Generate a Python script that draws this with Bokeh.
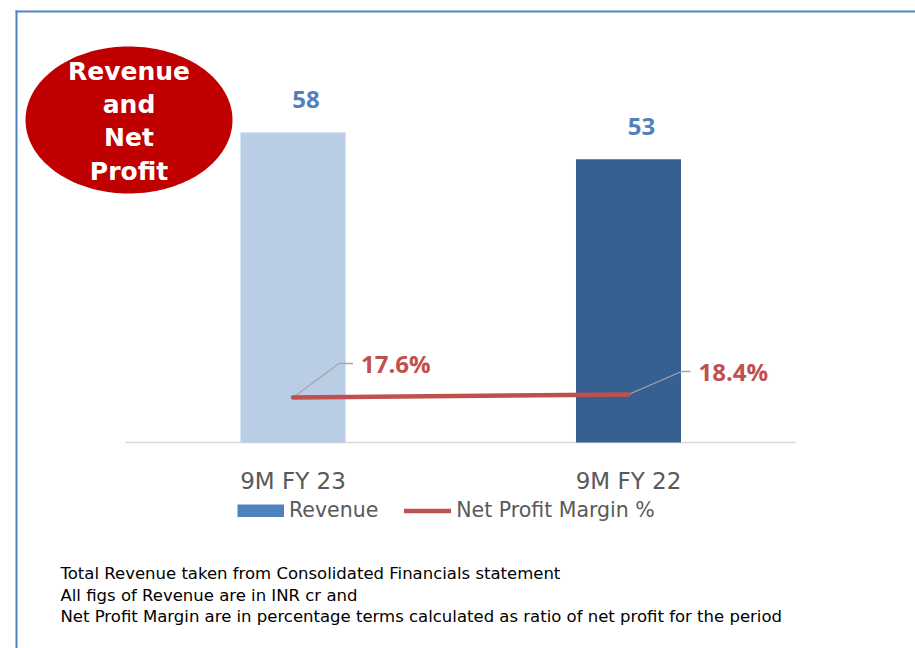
import numpy as np
from bokeh.plotting import figure
from bokeh.models import (ColumnDataSource, Range1d, Legend, LegendItem,
                          Label, PolyAnnotation, BoxAnnotation)
from bokeh.core.properties import value
from bokeh.embed import file_html
from bokeh.resources import INLINE

# ---------------- data ----------------
categories = ["9M FY 23", "9M FY 22"]
revenue = [58, 53]
net_profit_margin = [17.6, 18.4]
revenue_labels = ["58", "53"]
margin_labels = ["17.6%", "18.4%"]
title_lines = ["Revenue", "and", "Net", "Profit"]
notes = [
    "Total Revenue  taken from Consolidated Financials statement",
    "All figs of Revenue are in INR cr and",
    "Net Profit Margin are in percentage terms calculated as ratio of net profit for the period",
]

# ---------------- styles / layout ----------------
bar_colors = ["#b9cde5", "#366092"]
legend_bar_color = "#4f81bd"
line_color = "#c0504d"
W, H = 915, 648
PLOT_L = 124.75         # px where category axis starts
CAT_PX = 335.5          # px per category
BASE_Y = 442            # px (from top) of the zero line
REV_PX = 5.345          # px per revenue unit
M_ZERO = 5.6            # margin value at baseline
M_PX = 3.75             # px per margin unit
leader_dx1 = [46, 53]
leader_dx2 = [60, 62]
leader_dy = [34, 23]
label_dx = [68, 70]

n = len(categories)
x_pos = [i + 0.5 for i in range(n)]

x_range = Range1d(-PLOT_L / CAT_PX, (W - PLOT_L) / CAT_PX)
y_range = Range1d(-(H - BASE_Y) / REV_PX, BASE_Y / REV_PX)
m_range = Range1d(M_ZERO - (H - BASE_Y) / M_PX, M_ZERO + BASE_Y / M_PX)

src = ColumnDataSource(dict(
    x=x_pos, revenue=revenue, margin=net_profit_margin, cat=categories,
    rev_label=revenue_labels, m_label=margin_labels, color=bar_colors,
    lx=label_dx, ly=[-d for d in leader_dy], zero=[0] * n,
))

p = figure(width=W, height=H, output_backend="svg", toolbar_location=None,
           x_range=x_range, y_range=y_range, min_border=0)
p.extra_y_ranges = {"margin": m_range}
p.outline_line_color = None
p.grid.visible = False
p.axis.visible = False
p.background_fill_color = "white"
p.border_fill_color = "white"

# page frame border lines (top and left), screen units from bottom-left
p.add_layout(BoxAnnotation(left=15, right=W, top=H - 10, bottom=H - 12,
                           left_units="screen", right_units="screen",
                           top_units="screen", bottom_units="screen",
                           fill_color="#4f81bd", fill_alpha=1, line_alpha=0))
p.add_layout(BoxAnnotation(left=15, right=17, top=H - 10, bottom=0,
                           left_units="screen", right_units="screen",
                           top_units="screen", bottom_units="screen",
                           fill_color="#4f81bd", fill_alpha=1, line_alpha=0))

# category axis baseline and labels
p.segment(x0=0, y0=0, x1=n, y1=0, line_color="#d9d9d9", line_width=1.5)
p.text(x="x", y="zero", text="cat", y_offset=38, text_align="center", text_baseline="middle",
       text_font=value("DejaVu Sans"), text_font_size="23px", text_color="#595959", source=src)

# bars
p.vbar(x="x", top="revenue", width=0.313, fill_color="color", line_color=None, source=src)
p.text(x="x", y="revenue", text="rev_label", x_offset=13, y_offset=-33,
       text_align="center", text_baseline="middle",
       text_font=value("Open Sans"), text_font_style="bold", text_font_size="24px",
       text_color="#4f81bd", source=src)

# leader lines
lxs = [[x, x + a / CAT_PX, x + b / CAT_PX] for x, a, b in zip(x_pos, leader_dx1, leader_dx2)]
lys = [[m, m + d / M_PX, m + d / M_PX] for m, d in zip(net_profit_margin, leader_dy)]
p.multi_line(xs=lxs, ys=lys, y_range_name="margin", line_color="#a6a6a6", line_width=1.3)

# net profit margin line
r_line = p.line(x="x", y="margin", y_range_name="margin", line_color=line_color,
                line_width=4.5, line_cap="round", source=src)
p.text(x="x", y="margin", text="m_label", x_offset="lx", y_offset="ly",
       y_range_name="margin", text_align="left", text_baseline="middle",
       text_font=value("Open Sans"), text_font_style="bold", text_font_size="24px",
       text_color=line_color, source=src)

# legend (swatch-only renderer for Revenue, no visible data)
r_leg_bar = p.line(x=[float("nan"), float("nan")], y=[float("nan"), float("nan")],
                   line_color=legend_bar_color, line_width=13, line_cap="butt")
legend = Legend(items=[LegendItem(label="Revenue", renderers=[r_leg_bar]),
                       LegendItem(label="Net Profit Margin %", renderers=[r_line])],
                orientation="horizontal", location=(237, H - 510 - 12),
                glyph_width=47, glyph_height=13, label_height=24,
                label_text_font="DejaVu Sans", label_text_font_size="20.5px",
                label_text_color="#595959", label_standoff=5, spacing=26,
                padding=0, margin=0, border_line_alpha=0, background_fill_alpha=0)
p.add_layout(legend)

# title badge (ellipse), screen units from bottom-left
t = np.linspace(0, 2 * np.pi, 160)
cx, cy, rx, ry = 128.5, H - 119.5, 103.5, 73.5
p.add_layout(PolyAnnotation(xs=list(cx + rx * np.cos(t)), ys=list(cy + ry * np.sin(t)),
                            xs_units="screen", ys_units="screen",
                            fill_color="#c00000", fill_alpha=1, line_color=None))
for i, s in enumerate(title_lines):
    p.add_layout(Label(x=cx, y=H - (71 + i * 33.2), x_units="screen", y_units="screen",
                       text=s, text_align="center", text_baseline="middle",
                       text_font="DejaVu Sans", text_font_style="bold",
                       text_font_size="25px", text_color="white"))

# footnotes
for i, s in enumerate(notes):
    p.add_layout(Label(x=60, y=H - (573 + i * 21.5), x_units="screen", y_units="screen",
                       text=s, text_align="left", text_baseline="middle",
                       text_font="DejaVu Sans", text_font_size="16.5px", text_color="black"))

open("out.html", "w").write(file_html(p, INLINE))
